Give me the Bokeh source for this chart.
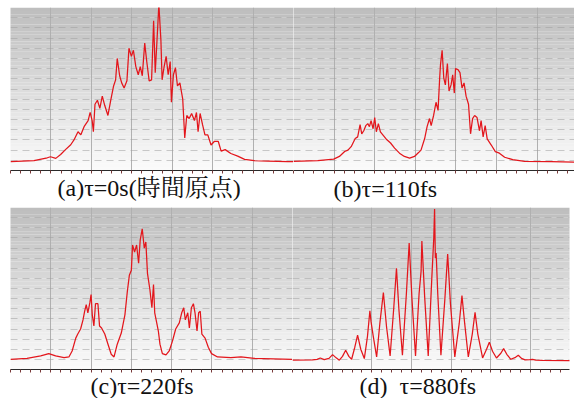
from bokeh.plotting import figure
from bokeh.layouts import column, row
from bokeh.models import Range1d, FixedTicker, Title
from bokeh.embed import file_html
from bokeh.resources import INLINE

# ---- data (x in grid divisions, y in grid divisions) ----
a_x = [0, 0.58, 0.91, 0.99, 1.12, 1.24, 1.36, 1.49, 1.57, 1.67, 1.74, 1.82, 1.92, 1.97, 2.02, 2.05, 2.09, 2.15, 2.21, 2.27,
       2.33, 2.41, 2.48, 2.55, 2.60, 2.64, 2.70, 2.75, 2.81, 2.88, 2.93, 2.99, 3.04, 3.10, 3.16, 3.21, 3.26, 3.32, 3.37, 3.43,
       3.49, 3.54, 3.58, 3.62, 3.67, 3.72, 3.75, 3.80, 3.85, 3.90, 3.95, 3.98, 4.03, 4.08, 4.13, 4.19, 4.26, 4.31, 4.36, 4.42,
       4.48, 4.55, 4.60, 4.64, 4.69, 4.75, 4.81, 4.88, 4.96, 5.04, 5.14, 5.21, 5.31, 5.45, 5.62, 5.79, 6.03, 6.36, 6.86, 7.0]
a_y = [0.87, 0.96, 1.25, 1.35, 1.19, 1.57, 2.05, 2.53, 3.0, 3.8, 3.5, 4.3, 4.9, 5.7, 4.9, 3.8, 6.5, 6.9, 6.1, 7.3,
       6.4, 5.4, 6.9, 8.3, 8.9, 11.0, 9.3, 8.6, 8.1, 8.8, 12.0, 11.2, 11.8, 10.2, 9.4, 10.2, 9.3, 12.5, 10.7, 8.8,
       8.9, 14.7, 9.6, 12.5, 16.3, 12.8, 8.9, 10.2, 11.2, 9.4, 10.7, 6.7, 9.4, 10.1, 8.3, 8.6, 7.0, 3.2, 5.4, 5.1,
       5.6, 4.9, 5.7, 3.8, 5.6, 4.5, 3.5, 3.5, 2.5, 2.85, 2.85, 1.9, 2.05, 1.67, 1.41, 1.09, 0.96, 0.93, 0.87, 0.87]

b_x = [0, 0.6, 0.99, 1.13, 1.26, 1.34, 1.42, 1.52, 1.58, 1.64, 1.68, 1.73, 1.78, 1.83, 1.87, 1.91, 1.96, 2.0, 2.04, 2.09,
       2.14, 2.2, 2.28, 2.39, 2.49, 2.61, 2.73, 2.86, 2.98, 3.08, 3.14, 3.23, 3.29, 3.35, 3.39, 3.45, 3.51, 3.56, 3.6, 3.62,
       3.66, 3.70, 3.74, 3.79, 3.83, 3.88, 3.92, 3.96, 3.99, 4.05, 4.1, 4.15, 4.2, 4.25, 4.31, 4.36, 4.41, 4.46, 4.52, 4.58,
       4.62, 4.67, 4.72, 4.77, 4.87, 4.97, 5.07, 5.2, 5.4, 5.69, 6.35, 6.92]
b_y = [0.9, 0.96, 1.12, 1.38, 1.86, 2.0, 2.34, 3.14, 3.3, 4.5, 3.6, 3.9, 4.4, 4.6, 4.3, 4.9, 4.1, 5.2, 3.8, 4.6,
       3.8, 3.5, 3.1, 2.7, 2.2, 1.7, 1.38, 1.22, 1.38, 1.76, 2.0, 3.14, 4.3, 5.1, 4.4, 5.4, 6.7, 5.9, 9.1, 10.4,
       11.8, 9.1, 8.4, 10.5, 7.8, 8.4, 9.4, 7.6, 10.0, 9.9, 9.6, 8.1, 8.6, 7.3, 6.5, 3.6, 5.1, 5.4, 5.2, 3.9,
       4.9, 3.3, 4.4, 3.1, 2.5, 1.86, 1.7, 1.3, 1.06, 0.9, 0.87, 0.83]

c_x = [0, 0.41, 0.75, 0.95, 1.12, 1.33, 1.45, 1.53, 1.62, 1.67, 1.74, 1.8, 1.84, 1.88, 1.92, 1.97, 2.0, 2.03, 2.07, 2.11,
       2.17, 2.21, 2.26, 2.34, 2.42, 2.5, 2.57, 2.65, 2.75, 2.84, 2.9, 2.95, 3.0, 3.03, 3.08, 3.13, 3.18, 3.22, 3.27, 3.32,
       3.36, 3.4, 3.46, 3.51, 3.55, 3.58, 3.62, 3.67, 3.71, 3.77, 3.86, 3.94, 4.02, 4.1, 4.19, 4.25, 4.3, 4.34, 4.4, 4.44,
       4.49, 4.54, 4.58, 4.63, 4.67, 4.71, 4.75, 4.83, 4.91, 4.99, 5.14, 5.47, 5.72, 6.05, 7.0]
c_y = [1.0, 1.1, 1.34, 1.57, 1.34, 1.18, 1.24, 1.83, 3.1, 3.5, 4.0, 4.9, 5.75, 6.4, 5.6, 6.6, 7.4, 5.4, 4.3, 6.5,
       6.5, 4.3, 4.1, 3.5, 2.5, 1.5, 1.24, 2.5, 3.6, 5.4, 7.7, 9.3, 9.8, 12.3, 11.6, 12.3, 10.5, 12.8, 13.9, 12.0,
       12.6, 9.5, 7.9, 6.1, 8.4, 5.6, 4.8, 3.8, 2.5, 1.57, 1.44, 1.83, 2.8, 4.0, 4.6, 5.6, 6.1, 4.9, 5.6, 4.1,
       6.1, 6.5, 5.6, 3.8, 5.6, 5.75, 3.5, 3.1, 2.2, 1.57, 1.24, 1.18, 1.24, 1.1, 1.0]

d_x = [0, 0.5, 0.62, 0.70, 0.8, 0.92, 1.01, 1.1, 1.18, 1.26, 1.34, 1.42, 1.49, 1.57, 1.64, 1.72, 1.81, 1.89, 1.95, 1.98,
       2.03, 2.12, 2.2, 2.29, 2.37, 2.46, 2.55, 2.62, 2.68, 2.77, 2.87, 2.94, 3.01, 3.1, 3.19, 3.24, 3.26, 3.33, 3.42, 3.51,
       3.56, 3.58, 3.6, 3.62, 3.66, 3.74, 3.84, 3.91, 3.98, 4.09, 4.2, 4.27, 4.34, 4.43, 4.53, 4.6, 4.67, 4.79, 4.89, 4.96,
       5.04, 5.14, 5.25, 5.32, 5.4, 5.5, 5.62, 5.69, 5.77, 5.86, 5.98, 6.05, 6.13, 6.3, 7.0]
d_y = [0.92, 0.95, 1.0, 1.14, 0.98, 1.1, 1.47, 1.15, 0.92, 1.3, 1.9, 1.3, 1.01, 2.2, 3.4, 2.0, 1.08, 3.3, 5.8, 4.7,
       3.4, 1.24, 4.5, 7.6, 4.2, 1.34, 6.0, 10.0, 6.0, 1.41, 7.5, 12.5, 7.0, 1.34, 7.5, 9.7, 12.7, 7.2, 1.34, 9.0,
       13.0, 15.85, 11.0, 11.5, 7.5, 1.41, 7.0, 11.4, 6.5, 1.24, 4.5, 7.3, 4.5, 1.24, 3.5, 5.65, 3.5, 1.14, 2.0, 2.7,
       1.8, 1.14, 1.6, 2.06, 1.5, 1.01, 1.2, 1.41, 1.1, 0.95, 0.98, 1.01, 0.93, 0.9, 0.88]

caption_a = "(a)τ=0s(時間原点)"
caption_b = "(b)τ=110fs"
caption_c = "(c)τ=220fs"
caption_d = "(d)\u00a0\u00a0τ=880fs"

FONT = "'Liberation Serif', 'Noto Serif CJK JP', 'Noto Sans CJK JP', serif"
LINE_RED = "#e3161c"


def panel(xs, ys, width, height, xmax, bl, br, bt, bb, caption, cap_left, cap_standoff):
    p = figure(width=width, height=height, output_backend="svg", toolbar_location=None,
               x_range=Range1d(0, xmax), y_range=Range1d(0, 16),
               min_border_left=bl, min_border_right=br, min_border_top=bt, min_border_bottom=bb)
    p.outline_line_color = None
    p.background_fill_color = "white"
    p.border_fill_color = "white"
    # vertical gradient background (grey at top -> white at bottom)
    n = 48
    lefts, rights, bots, tops, cols = [], [], [], [], []
    for i in range(n):
        y0 = 16.0 * i / n
        y1 = 16.0 * (i + 1) / n
        t = (y0 + y1) / 32.0
        g = int(round(251 - t * 62))
        lefts.append(-1); rights.append(xmax + 1); bots.append(y0); tops.append(y1)
        cols.append("#%02x%02x%02x" % (g, g, g))
    bg = p.quad(left=lefts, right=rights, bottom=bots, top=tops, fill_color=cols, line_color=None)
    bg.level = "image"

    p.yaxis.visible = False
    ax = p.xaxis[0]
    ax.ticker = FixedTicker(ticks=[], minor_ticks=[k * 0.25 for k in range(29)])
    ax.axis_line_color = "#2a2a2a"
    ax.minor_tick_line_color = "#7a3a3a"
    ax.minor_tick_in = 0
    ax.minor_tick_out = 3
    ax.major_label_standoff = 0
    ax.axis_label_standoff = 0

    p.xgrid.ticker = FixedTicker(ticks=list(range(1, 8)))
    p.xgrid.grid_line_color = "#b0b0b0"
    p.xgrid.grid_line_width = 1
    p.ygrid.ticker = FixedTicker(ticks=list(range(1, 16)))
    p.ygrid.grid_line_color = "#a0a0a0"
    p.ygrid.grid_line_alpha = 0.55
    p.ygrid.grid_line_dash = "7 5"

    p.line(xs, ys, line_color=LINE_RED, line_width=1.25)

    p.add_layout(Title(text=caption, align="left", offset=cap_left, standoff=cap_standoff,
                       text_font=FONT, text_font_size="24px", text_font_style="normal",
                       text_color="#111111"), "below")
    return p


pa = panel(a_x, a_y, 293, 202, 7.0, 10, 0, 7, 29, caption_a, 47, -1)
pb = panel(b_x, b_y, 281, 202, 6.92, 0, 0, 4, 31, caption_b, 40, 1)
pc = panel(c_x, c_y, 292, 196, 7.0, 10, 0, 5, 28, caption_c, 80, -4)
pd = panel(d_x, d_y, 282, 196, 6.98, 0, 5, 4, 29, caption_d, 67, -4)

layout = column(row(pa, pb, spacing=0), row(pc, pd, spacing=0), spacing=0)

with open("out.html", "w") as f:
    f.write(file_html(layout, INLINE))
